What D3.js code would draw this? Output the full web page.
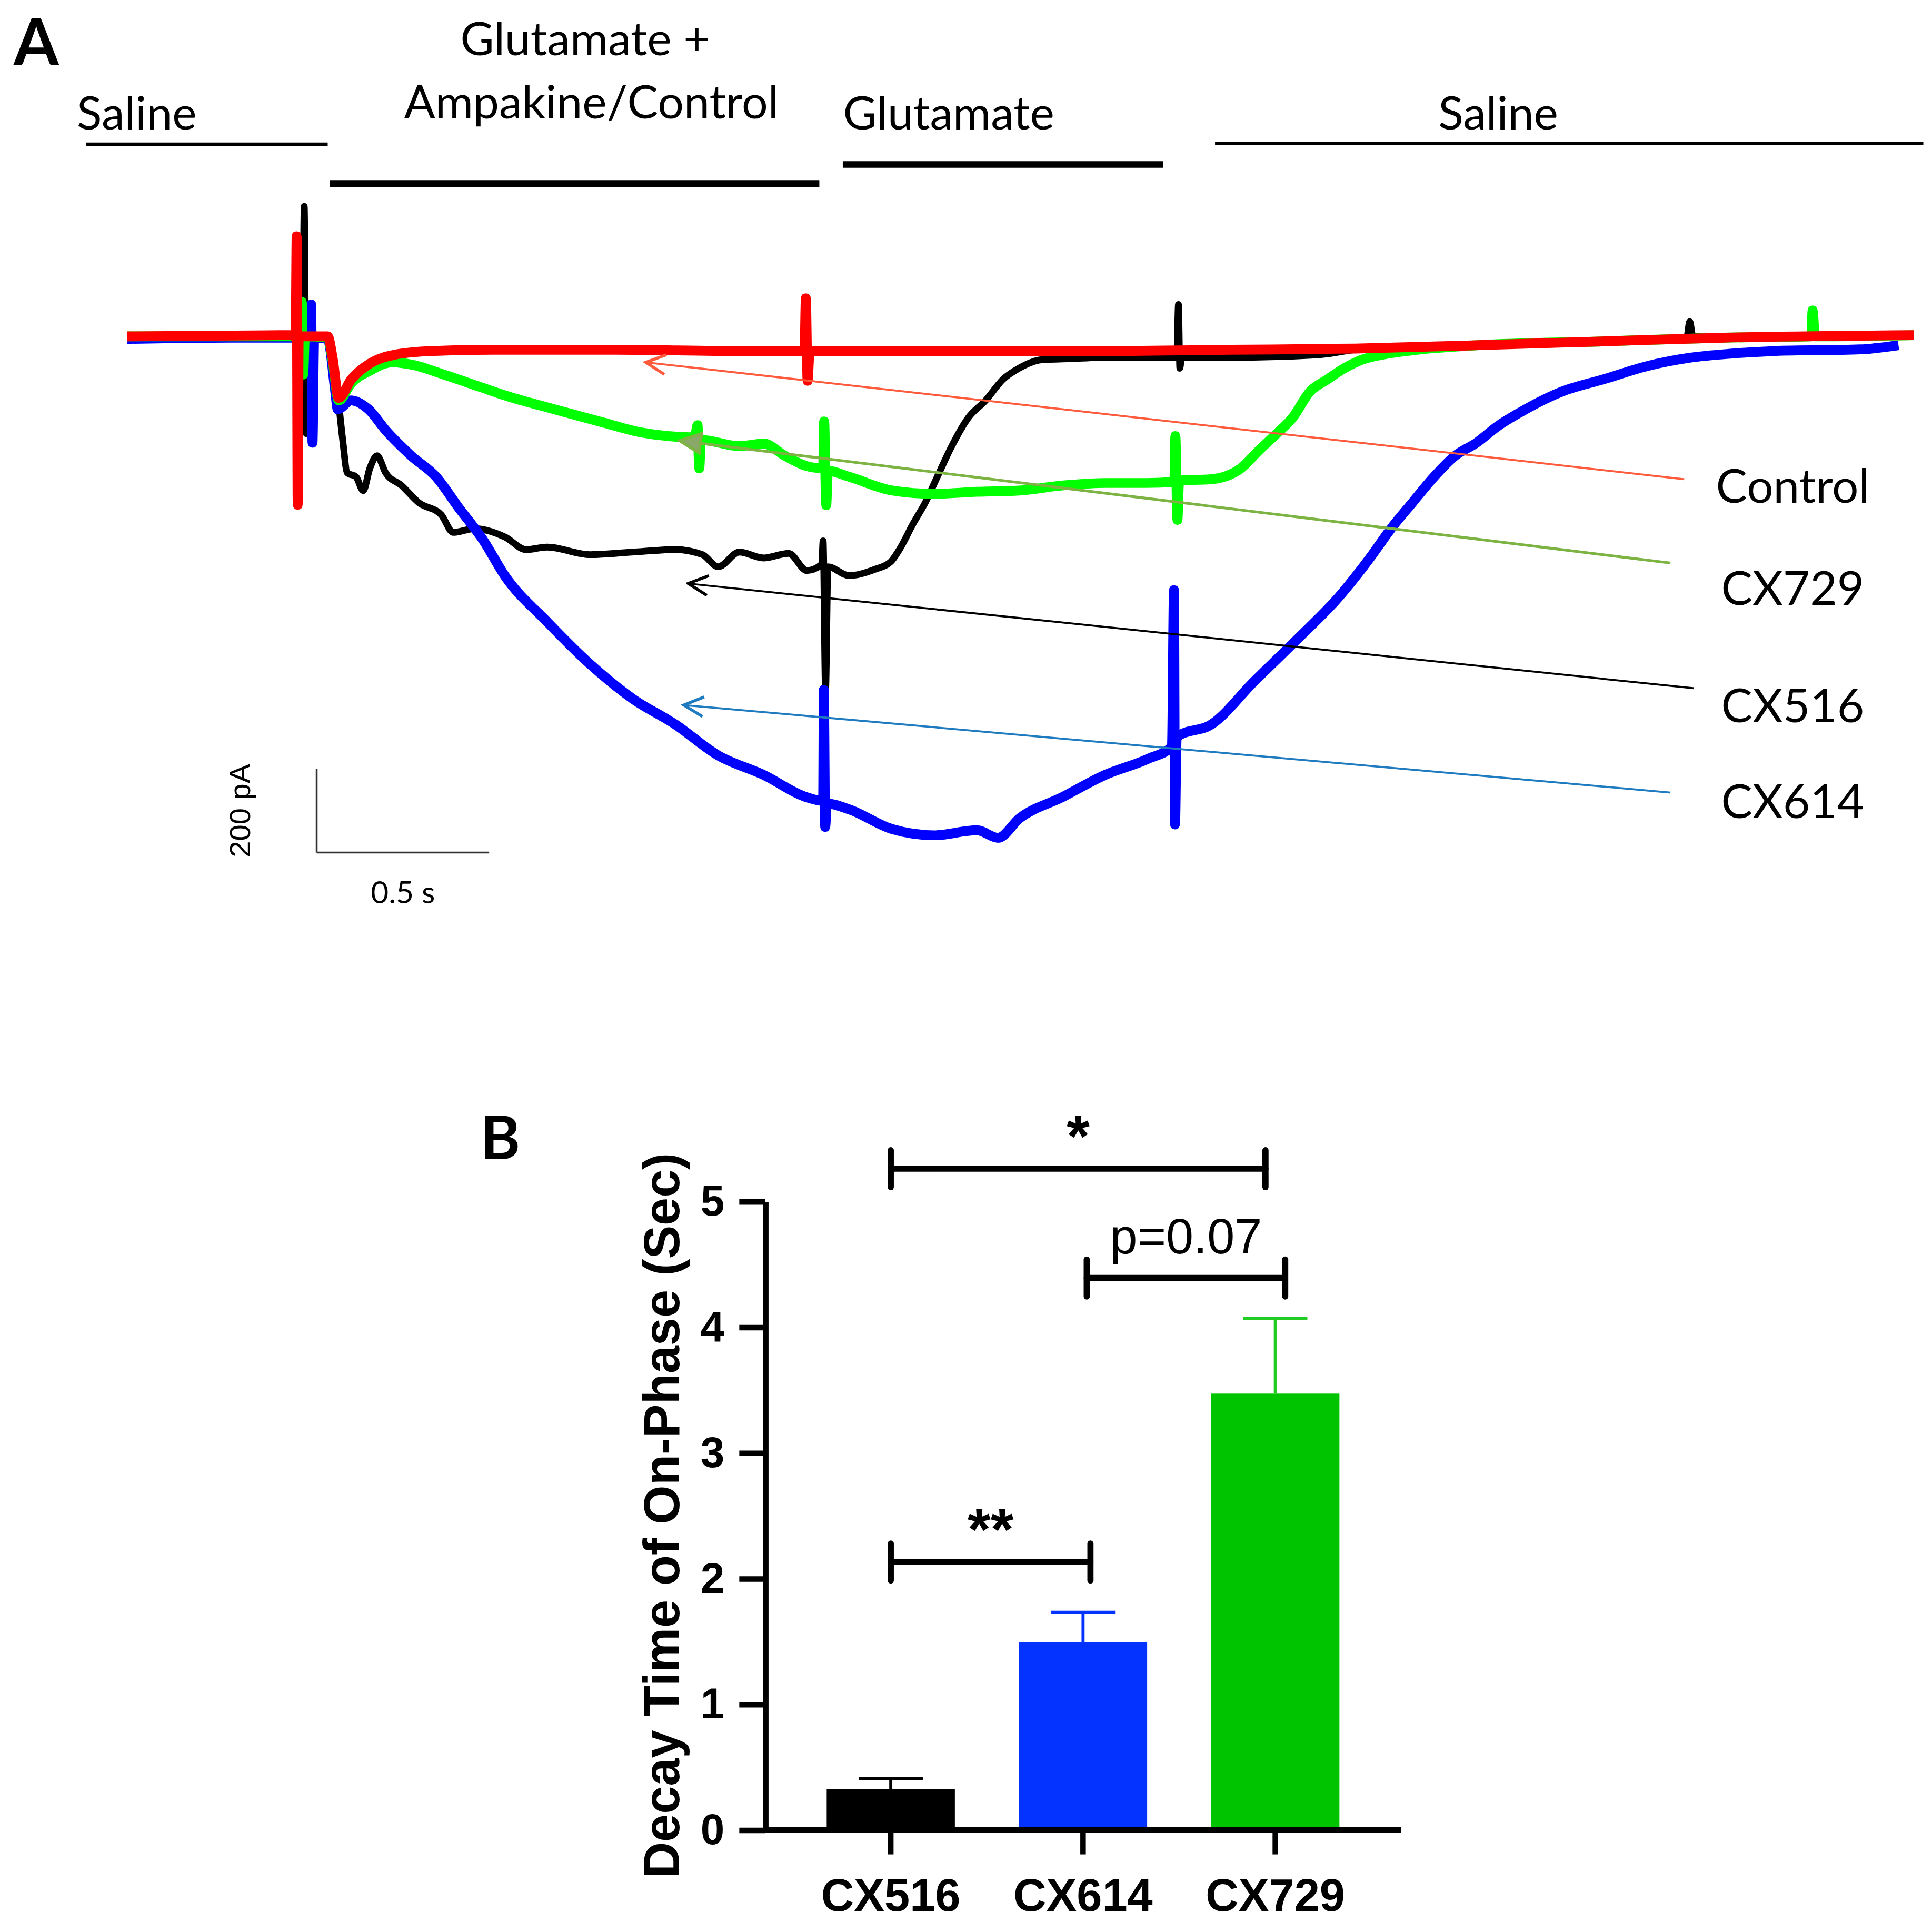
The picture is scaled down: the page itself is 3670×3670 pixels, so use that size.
<!DOCTYPE html>
<html>
<head>
<meta charset="utf-8">
<script src="https://cdn.jsdelivr.net/npm/d3@7"></script>
<style>
  body { margin: 0; background: #fff; }
  svg { display: block; }
</style>
</head>
<body>
<script>
// ---- panel A : whole-cell currents, [time (s), current (pA)] ----
var control = [
  [0, 0], [0.482, 3], [0.489, -3], [0.492, 239], [0.495, -402], [0.498, 0],
  [0.582, 0], [0.596, -50], [0.614, -147], [0.65, -103], [0.704, -65],
  [0.775, -44], [0.882, -35], [1.061, -32], [1.418, -32], [1.775, -35],
  [1.964, -35], [1.968, 91], [1.973, -106], [1.979, -35], [2.132, -35],
  [2.489, -35], [2.846, -35], [3.204, -32], [3.561, -29], [3.918, -21],
  [4.275, -12], [4.632, -3], [5.179, 3]
];
var cx516 = [
  [0, 0], [0.509, 0], [0.514, 310], [0.52, -232], [0.526, 0], [0.582, -3],
  [0.614, -162], [0.625, -244], [0.639, -326], [0.664, -335], [0.685, -368],
  [0.704, -315], [0.725, -285], [0.75, -326], [0.796, -356], [0.846, -397],
  [0.911, -426], [0.946, -468], [1.007, -459], [1.096, -479], [1.157, -509],
  [1.218, -503], [1.343, -521], [1.464, -515], [1.589, -509], [1.668, -521],
  [1.714, -550], [1.775, -515], [1.846, -529], [1.918, -518], [1.971, -559],
  [2.014, -544], [2.018, -488], [2.025, -844], [2.032, -550], [2.093, -571],
  [2.168, -556], [2.214, -538], [2.239, -509], [2.279, -447], [2.314, -397],
  [2.354, -326], [2.389, -265], [2.439, -194], [2.489, -153], [2.539, -103],
  [2.586, -76], [2.65, -56], [2.739, -53], [2.846, -50], [3.043, -50],
  [3.048, 76], [3.052, -76], [3.057, -50], [3.204, -50], [3.454, -44],
  [3.561, -32], [3.918, -21], [4.275, -12], [4.521, -3], [4.53, 35],
  [4.539, 0], [4.811, 0], [5.179, 3]
];
var cx729 = [
  [0, 0], [0.5, 0], [0.507, 82], [0.511, -91], [0.516, 0], [0.582, -3],
  [0.596, -56], [0.614, -153], [0.65, -112], [0.704, -82], [0.768, -62],
  [0.829, -68], [0.918, -91], [1.025, -121], [1.096, -141], [1.239, -174],
  [1.382, -206], [1.489, -229], [1.646, -241], [1.654, -212], [1.659, -315],
  [1.664, -247], [1.775, -262], [1.846, -256], [1.907, -285], [1.968, -309],
  [2.018, -315], [2.021, -203], [2.027, -403], [2.032, -321], [2.093, -335],
  [2.218, -368], [2.339, -376], [2.464, -371], [2.586, -368], [2.711, -356],
  [2.836, -350], [2.957, -350], [3.036, -347], [3.039, -238], [3.045, -438],
  [3.05, -344], [3.143, -341], [3.229, -315], [3.279, -274], [3.329, -235],
  [3.379, -194], [3.429, -132], [3.479, -103], [3.529, -76], [3.579, -56],
  [3.657, -41], [3.739, -32], [3.918, -21], [4.275, -12], [4.632, -3],
  [4.882, 0], [4.886, 62], [4.893, 0], [5.179, 3]
];
var cx614 = [
  [0, -6], [0.3, -3], [0.525, -3], [0.534, 76], [0.538, -254], [0.543, -3],
  [0.582, -6], [0.604, -132], [0.611, -174], [0.65, -153], [0.7, -174],
  [0.75, -224], [0.824, -285], [0.896, -335], [0.959, -406], [1.034, -488],
  [1.095, -571], [1.219, -682], [1.342, -782], [1.466, -865], [1.589, -926],
  [1.713, -1000], [1.846, -1047], [1.97, -1100], [2.018, -1109], [2.02, -844],
  [2.024, -1171], [2.029, -1115], [2.093, -1129], [2.217, -1176], [2.34, -1191],
  [2.464, -1179], [2.525, -1197], [2.588, -1150], [2.711, -1100], [2.835, -1047],
  [2.958, -1009], [3.029, -979], [3.035, -606], [3.038, -1165], [3.043, -956],
  [3.144, -926], [3.267, -824], [3.391, -724], [3.514, -621], [3.603, -529],
  [3.665, -458], [3.726, -397], [3.788, -336], [3.85, -285], [3.912, -254],
  [3.974, -214], [4.035, -183], [4.159, -132], [4.282, -102], [4.406, -71],
  [4.53, -51], [4.653, -41], [4.777, -35], [5.024, -31], [5.135, -21]
];

// solution bars above the traces (s)
var phaseStart = [-0.118, 0.5875, 2.075, 3.154];
var phaseEnd = [0.582, 2.007, 3.004, 5.207];

// arrow annotations: head / tail in [s, pA]
var arrowNames = ["Control", "CX729", "CX516", "CX614"];
var arrowHead = [[1.504, -62], [1.602, -249], [1.627, -590], [1.614, -880]];
var arrowTail = [[4.514, -341], [4.474, -541], [4.542, -840], [4.474, -1089]];

// ---- panel B : decay time of on-phase ----
var drugs = ["CX516", "CX614", "CX729"];
var decayMean = [0.325, 1.49, 3.47];
var decaySem = [0.08, 0.24, 0.6];
var yTicks = [0, 1, 2, 3, 4, 5];
var sigPairs = [[0, 2], [1, 2], [0, 1]];
var sigLevel = [5.26, 4.39, 2.13];
var sigText = ["*", "p=0.07", "**"];

var W = 1568;
var svg = d3.select("body").append("svg")
  .attr("width", 3670)
  .attr("height", 3670)
  .attr("viewBox", "0 0 " + W + " " + W);

svg.append("rect").attr("width", W).attr("height", W).attr("fill", "#fff");

// ============ panel A ============
var x = d3.scaleLinear().domain([0, 0.5]).range([103, 243]);
var y = d3.scaleLinear().domain([0, -200]).range([273, 341]);

var gA = svg.append("g");

gA.append("text")
  .attr("x", 11).attr("y", 53)
  .style("font", "bold 53px Lato")
  .text("A");

// solution bars
var phaseY = [117, 149, 133.5, 116.6];
var phaseW = [2.7, 5.5, 5.4, 2.7];
gA.selectAll("line.phase")
  .data(phaseStart)
  .enter()
  .append("line")
  .attr("class", "phase")
  .attr("x1", function(d) { return x(d); })
  .attr("x2", function(d, i) { return x(phaseEnd[i]); })
  .attr("y1", function(d, i) { return phaseY[i]; })
  .attr("y2", function(d, i) { return phaseY[i]; })
  .attr("stroke", "#000")
  .attr("stroke-width", function(d, i) { return phaseW[i]; });

var phaseLabels = [
  ["Saline", 111, 105],
  ["Glutamate +", 475, 45],
  ["Ampakine/Control", 480, 96],
  ["Glutamate", 770, 105],
  ["Saline", 1216, 105]
];
gA.selectAll("text.phase")
  .data(phaseLabels)
  .enter()
  .append("text")
  .attr("class", "phase")
  .attr("x", function(d) { return d[1]; })
  .attr("y", function(d) { return d[2]; })
  .attr("text-anchor", "middle")
  .style("font", "37.5px Lato")
  .text(function(d) { return d[0]; });

// traces (bottom to top)
var line = d3.line()
  .curve(d3.curveMonotoneX)
  .x(function(d) { return x(d[0]); })
  .y(function(d) { return y(d[1]); });

var traces = [
  { data: cx516, color: "#000000", w: 5.5 },
  { data: cx614, color: "#0000ff", w: 8 },
  { data: cx729, color: "#00ff00", w: 8 },
  { data: control, color: "#ff0000", w: 8 }
];
gA.selectAll("path.trace")
  .data(traces)
  .enter()
  .append("path")
  .attr("class", "trace")
  .attr("d", function(d) { return line(d.data); })
  .attr("fill", "none")
  .attr("stroke", function(d) { return d.color; })
  .attr("stroke-width", function(d) { return d.w; })
  .attr("stroke-linejoin", "round");

// arrows
var arrowColor = ["#ff5a3c", "#7cb342", "#000000", "#1f7bbf"];
var defs = svg.append("defs");
arrowColor.forEach(function(c, i) {
  defs.append("marker")
    .attr("id", "arr" + i)
    .attr("viewBox", "-2 -10 22 20")
    .attr("refX", 0).attr("refY", 0)
    .attr("markerWidth", 22).attr("markerHeight", 20)
    .attr("markerUnits", "userSpaceOnUse")
    .attr("orient", "auto")
    .append("path")
    .attr("d", i == 1 ? "M17,-8 L0,0 L17,8 Z" : "M16,-8 L0,0 L16,8")
    .attr("fill", i == 1 ? "#8aa86a" : "none")
    .attr("stroke", c)
    .attr("stroke-width", 2.4);
});

gA.selectAll("line.arrow")
  .data(arrowHead)
  .enter()
  .append("line")
  .attr("class", "arrow")
  .attr("x1", function(d) { return x(d[0]); })
  .attr("y1", function(d) { return y(d[1]); })
  .attr("x2", function(d, i) { return x(arrowTail[i][0]); })
  .attr("y2", function(d, i) { return y(arrowTail[i][1]); })
  .attr("stroke", function(d, i) { return arrowColor[i]; })
  .attr("stroke-width", function(d, i) { return i == 1 ? 2.2 : 1.6; })
  .attr("marker-start", function(d, i) { return "url(#arr" + i + ")"; });

var labelY = [408, 491, 586, 664];
gA.selectAll("text.arrowlab")
  .data(arrowNames)
  .enter()
  .append("text")
  .attr("class", "arrowlab")
  .attr("x", 1455)
  .attr("y", function(d, i) { return labelY[i]; })
  .attr("text-anchor", "middle")
  .style("font", "38px Lato")
  .text(function(d) { return d; });

// scale bar: 200 pA, 0.5 s
var sb = gA.append("g")
  .attr("fill", "none")
  .attr("stroke", "#333")
  .attr("stroke-width", 1.5);
sb.append("line")
  .attr("x1", x(0.55)).attr("x2", x(0.55))
  .attr("y1", y(-1232)).attr("y2", y(-1032));
sb.append("line")
  .attr("x1", x(0.55)).attr("x2", x(1.05))
  .attr("y1", y(-1232)).attr("y2", y(-1232));

gA.append("text")
  .attr("transform", "translate(203," + (y(-1132)) + ") rotate(-90)")
  .attr("text-anchor", "middle")
  .style("font", "24px 'Liberation Sans'")
  .text("200 pA");
gA.append("text")
  .attr("x", x(0.8)).attr("y", 733)
  .attr("text-anchor", "middle")
  .style("font", "25px Lato")
  .text("0.5 s");

// ============ panel B ============
var gB = svg.append("g");

gB.append("text")
  .attr("x", 390).attr("y", 941)
  .style("font", "bold 49px Lato")
  .text("B");

var xb = d3.scaleBand()
  .domain(drugs)
  .range([621, 1137])
  .paddingInner(1 / 3)
  .paddingOuter(0.32);
var yb = d3.scaleLinear().domain([0, 5]).range([1485, 975]);

var barColor = ["#000000", "#0433ff", "#00c400"];
var errColor = ["#000000", "#0433ff", "#22cc22"];

gB.selectAll("rect.bar")
  .data(decayMean)
  .enter()
  .append("rect")
  .attr("class", "bar")
  .attr("x", function(d, i) { return xb(drugs[i]); })
  .attr("y", function(d) { return yb(d); })
  .attr("width", xb.bandwidth())
  .attr("height", function(d) { return yb(0) - yb(d); })
  .attr("fill", function(d, i) { return barColor[i]; });

// error bars (upper only)
var err = gB.selectAll("g.err")
  .data(decayMean)
  .enter()
  .append("g")
  .attr("class", "err")
  .attr("stroke", function(d, i) { return errColor[i]; })
  .attr("stroke-width", 2.5);
err.append("line")
  .attr("x1", function(d, i) { return xb(drugs[i]) + xb.bandwidth() / 2; })
  .attr("x2", function(d, i) { return xb(drugs[i]) + xb.bandwidth() / 2; })
  .attr("y1", function(d) { return yb(d); })
  .attr("y2", function(d, i) { return yb(d + decaySem[i]); });
err.append("line")
  .attr("x1", function(d, i) { return xb(drugs[i]) + xb.bandwidth() / 4; })
  .attr("x2", function(d, i) { return xb(drugs[i]) + xb.bandwidth() * 3 / 4; })
  .attr("y1", function(d, i) { return yb(d + decaySem[i]); })
  .attr("y2", function(d, i) { return yb(d + decaySem[i]); });

// axes
var yAxis = d3.axisLeft(yb).tickValues(yTicks).tickFormat(d3.format("d"))
  .tickSize(21).tickSizeOuter(0).tickPadding(12);
var gy = gB.append("g")
  .attr("transform", "translate(621,0)")
  .call(yAxis);
gy.selectAll("path, line").attr("stroke", "#000").attr("stroke-width", 4.5);
gy.selectAll("text")
  .attr("fill", "#000")
  .style("font", "bold 35px 'Liberation Sans'");

var xAxis = d3.axisBottom(xb).tickSize(20).tickSizeOuter(0);
var gx = gB.append("g")
  .attr("transform", "translate(0,1485)")
  .call(xAxis);
gx.select("path.domain").attr("d", "M621,0H1137");
gx.selectAll("path, line").attr("stroke", "#000").attr("stroke-width", 4.5);
gx.selectAll("text")
  .attr("y", 66).attr("dy", 0)
  .attr("fill", "#000")
  .style("font", "bold 37px 'Liberation Sans'");

gB.append("text")
  .attr("transform", "translate(551,1230) rotate(-90)")
  .attr("text-anchor", "middle")
  .style("font", "bold 40.8px 'Liberation Sans'")
  .text("Decay Time of On-Phase (Sec)");

// significance brackets (ends nudged a little off the bar centres, as drawn)
var sigNudge = [[0, -8], [3, 8], [0, 6]];
function cx(i) { return xb(drugs[i]) + xb.bandwidth() / 2; }
function sx1(d, i) { return cx(d[0]) + sigNudge[i][0]; }
function sx2(d, i) { return cx(d[1]) + sigNudge[i][1]; }
var sig = gB.selectAll("g.sig")
  .data(sigPairs)
  .enter()
  .append("g")
  .attr("class", "sig")
  .attr("stroke", "#000")
  .attr("stroke-width", 5)
  .attr("stroke-linecap", "round");
sig.append("line")
  .attr("x1", sx1)
  .attr("x2", sx2)
  .attr("y1", function(d, i) { return yb(sigLevel[i]); })
  .attr("y2", function(d, i) { return yb(sigLevel[i]); });
sig.append("line")
  .attr("x1", sx1)
  .attr("x2", sx1)
  .attr("y1", function(d, i) { return yb(sigLevel[i]) - 15; })
  .attr("y2", function(d, i) { return yb(sigLevel[i]) + 15; });
sig.append("line")
  .attr("x1", sx2)
  .attr("x2", sx2)
  .attr("y1", function(d, i) { return yb(sigLevel[i]) - 15; })
  .attr("y2", function(d, i) { return yb(sigLevel[i]) + 15; });

gB.selectAll("text.sig")
  .data(sigPairs)
  .enter()
  .append("text")
  .attr("class", "sig")
  .attr("x", function(d, i) { return (sx1(d, i) + sx2(d, i)) / 2; })
  .attr("y", function(d, i) { return yb(sigLevel[i]) - (i == 1 ? 20 : 10); })
  .attr("text-anchor", "middle")
  .style("font", function(d, i) {
    return i == 1 ? "40px 'Liberation Sans'" : "bold 48px 'Liberation Sans'";
  })
  .text(function(d, i) { return sigText[i]; });
</script>
</body>
</html>
